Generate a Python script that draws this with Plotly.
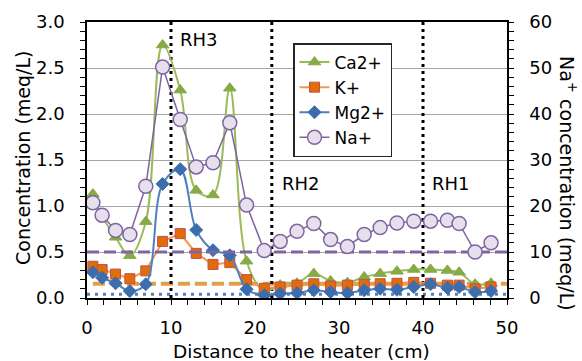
import plotly.graph_objects as go

# ---- data ----
distance_cm = [0.7, 1.8, 3.4, 5.1, 7.0, 9.0, 11.1, 13.0, 15.0, 17.0, 19.0, 21.1, 23.0,
               25.0, 27.0, 29.0, 31.0, 33.0, 34.9, 36.9, 38.9, 40.9, 42.9, 44.3, 46.2, 48.1]
ca_meq = [1.13, 0.89, 0.66, 0.46, 0.83, 2.75, 2.26, 1.17, 1.12, 2.28, 0.40, 0.08, 0.14,
          0.16, 0.265, 0.185, 0.167, 0.228, 0.265, 0.29, 0.31, 0.31, 0.30, 0.28, 0.15, 0.16]
k_meq = [0.345, 0.31, 0.26, 0.21, 0.295, 0.615, 0.70, 0.485, 0.365, 0.385, 0.20, 0.105, 0.12,
         0.14, 0.155, 0.13, 0.14, 0.145, 0.155, 0.16, 0.17, 0.16, 0.14, 0.14, 0.10, 0.12]
mg_meq = [0.28, 0.22, 0.16, 0.075, 0.15, 1.24, 1.40, 0.74, 0.52, 0.464, 0.095, 0.03, 0.048,
          0.054, 0.084, 0.065, 0.054, 0.084, 0.10, 0.09, 0.12, 0.15, 0.11, 0.12, 0.065, 0.076]
na_meq = [20.7, 18.0, 14.7, 13.8, 24.3, 50.2, 38.8, 28.5, 29.4, 38.1, 20.2, 10.3, 12.3,
          14.5, 16.2, 12.7, 11.2, 13.8, 15.3, 16.3, 16.7, 16.7, 16.9, 16.2, 10.0, 12.0]

# initial (reference) concentrations
ref_ca = 0.16
ref_k = 0.15
ref_mg = 0.04
ref_na = 10
ref_x_full = [0, 50]
ref_x_samples = [0.7, 50]

# heater / sensor positions
rh_positions = [10, 22, 40]
rh_labels = ["RH3", "RH2", "RH1"]

x_range = [0, 50]
y_range = [0, 3]
y2_range = [0, 60]

FONT = "DejaVu Sans"
FS = 18
FT = 19

C_CA = "#9BBB59"
C_CA_M = "#86AA45"
C_K = "#F79646"
C_K_M = "#E36C0A"
C_K_B = "#C0504D"
C_MG = "#4F81BD"
C_MG_M = "#3C6EAD"
C_NA = "#8064A2"
C_NA_F = "#E6E0EC"

fig = go.Figure()

# reference lines
fig.add_trace(go.Scatter(x=ref_x_samples, y=[ref_ca, ref_ca], mode="lines",
                         line=dict(color=C_CA, width=3, dash="12px,5px"),
                         showlegend=False, hoverinfo="skip"))
fig.add_trace(go.Scatter(x=ref_x_samples, y=[ref_k, ref_k], mode="lines",
                         line=dict(color=C_K, width=3, dash="12px,5px"),
                         showlegend=False, hoverinfo="skip"))
fig.add_trace(go.Scatter(x=ref_x_full, y=[ref_mg, ref_mg], mode="lines",
                         line=dict(color=C_MG, width=3, dash="3px,5px"),
                         showlegend=False, hoverinfo="skip"))

# vertical dotted lines at RH positions
for p in rh_positions:
    fig.add_trace(go.Scatter(x=[p, p], y=y_range, mode="lines",
                             line=dict(color="black", width=3, dash="3px,4px"),
                             showlegend=False, hoverinfo="skip"))

fig.add_trace(go.Scatter(x=distance_cm, y=ca_meq, name="Ca2+", mode="lines+markers",
                         line=dict(color=C_CA, width=2, shape="spline", smoothing=1.0),
                         marker=dict(symbol="triangle-up", size=11, color=C_CA_M,
                                     line=dict(color=C_CA_M, width=1))))
fig.add_trace(go.Scatter(x=distance_cm, y=k_meq, name="K+", mode="lines+markers",
                         line=dict(color=C_K, width=2),
                         marker=dict(symbol="square", size=10, color=C_K_M,
                                     line=dict(color=C_K_B, width=1))))
fig.add_trace(go.Scatter(x=distance_cm, y=mg_meq, name="Mg2+", mode="lines+markers",
                         line=dict(color=C_MG, width=2, shape="spline", smoothing=1.0),
                         marker=dict(symbol="diamond", size=10, color=C_MG_M,
                                     line=dict(color=C_MG_M, width=1))))

# Na on secondary axis
fig.add_trace(go.Scatter(x=ref_x_full, y=[ref_na, ref_na], mode="lines", yaxis="y2",
                         line=dict(color=C_NA, width=3, dash="12px,5px"),
                         showlegend=False, hoverinfo="skip"))
fig.add_trace(go.Scatter(x=distance_cm, y=na_meq, name="Na+", mode="lines+markers", yaxis="y2",
                         line=dict(color=C_NA, width=1.5),
                         marker=dict(symbol="circle", size=14, color=C_NA_F,
                                     line=dict(color=C_NA, width=1.5))))

L, R, T, B, W, H = 87, 75, 22, 63, 582, 361
pw, ph = W - L - R, H - T - B

annotations = []
rh_y = [2.81, 1.25, 1.25]
rh_x = [10.8, 23.0, 40.8]
for lab, xx, yy in zip(rh_labels, rh_x, rh_y):
    annotations.append(dict(x=xx, y=yy, xref="x", yref="y", text=lab, showarrow=False,
                            xanchor="left", yanchor="middle",
                            font=dict(family=FONT, size=FS, color="black")))
annotations.append(dict(x=(23 - L) / pw, y=(H - B - 158) / ph, xref="paper", yref="paper",
                        xanchor="center", yanchor="middle",
                        text="Concentration (meq/L)", textangle=-90, showarrow=False,
                        font=dict(family=FONT, size=FT, color="black")))
annotations.append(dict(x=(568 - L) / pw, y=(H - B - 183) / ph, xref="paper", yref="paper",
                        xanchor="center", yanchor="middle",
                        text="Na<sup>+</sup> concentration (meq/L)", textangle=90, showarrow=False,
                        font=dict(family=FONT, size=FT, color="black")))
annotations.append(dict(x=(301 - L) / pw, y=(H - B - 351) / ph, xref="paper", yref="paper",
                        xanchor="center", yanchor="middle",
                        text="Distance to the heater (cm)", showarrow=False,
                        font=dict(family=FONT, size=18.5, color="black")))

axis_common = dict(showline=True, linecolor="black", linewidth=1.5, ticks="outside",
                   ticklen=5, tickwidth=1.3, tickcolor="black",
                   tickfont=dict(family=FONT, size=FS, color="black"), zeroline=False)

fig.update_layout(
    width=W, height=H,
    margin=dict(l=L, r=R, t=T, b=B, pad=0),
    paper_bgcolor="white", plot_bgcolor="white",
    font=dict(family=FONT, size=FS, color="black"),
    xaxis=dict(range=x_range, dtick=10, showgrid=False, mirror=True,
               ticklabelstandoff=8,
               minor=dict(dtick=2, ticks="outside", ticklen=5, tickcolor="black", tickwidth=1.3),
               **axis_common),
    yaxis=dict(range=y_range, dtick=0.5, tickformat=".1f", showgrid=True,
               gridcolor="#A6A6A6", gridwidth=1, ticklabelstandoff=12,
               minor=dict(dtick=0.1, ticks="outside", ticklen=5, tickcolor="black", tickwidth=1.3,
                          showgrid=False),
               **axis_common),
    yaxis2=dict(range=y2_range, dtick=10, overlaying="y", side="right", showgrid=False,
                ticklabelstandoff=12,
                minor=dict(dtick=2, ticks="outside", ticklen=5, tickcolor="black", tickwidth=1.3),
                **axis_common),
    legend=dict(x=(293 - L) / pw, y=(H - B - 43) / ph, xanchor="left", yanchor="top",
                bgcolor="white", bordercolor="#262626", borderwidth=1.5,
                font=dict(family=FONT, size=17, color="black"), traceorder="normal",
                tracegroupgap=0),
    annotations=annotations,
    showlegend=True,
)

fig.write_html("out.html", config={"displayModeBar": False},
               post_script="document.body.style.margin='0';document.body.style.overflow='hidden';")
